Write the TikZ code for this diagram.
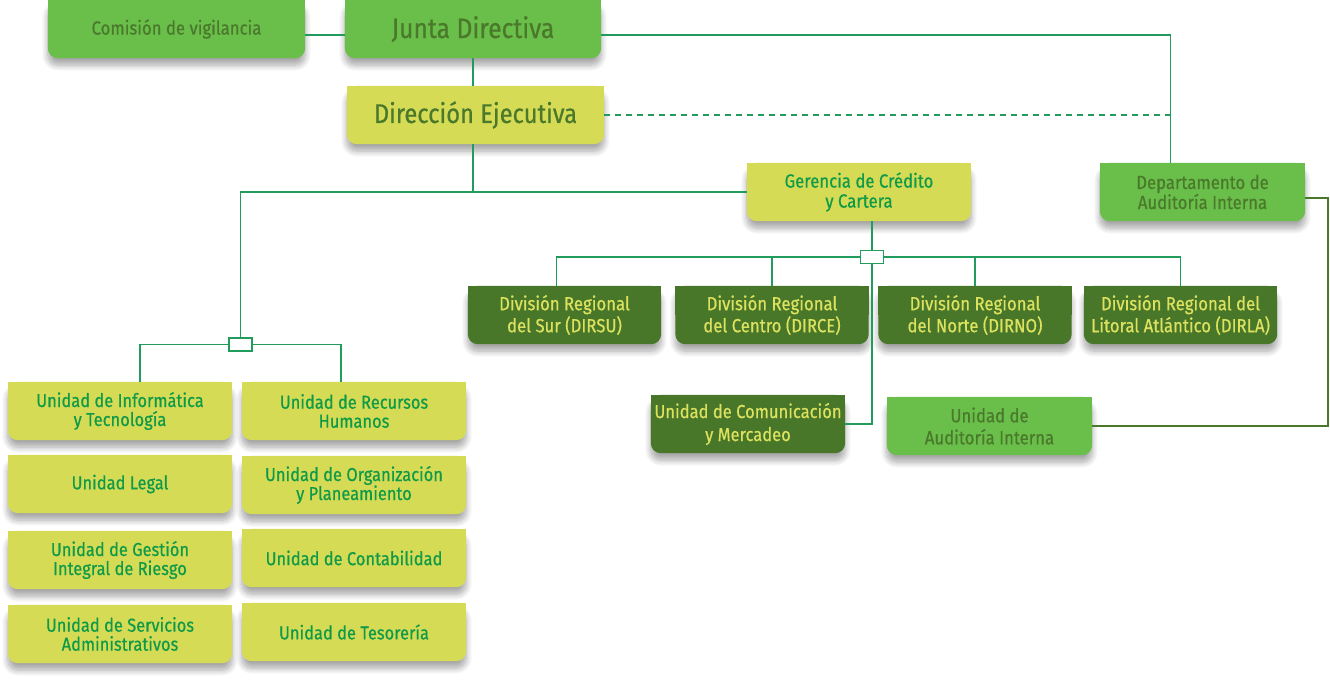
\documentclass[tikz,border=0pt]{standalone}
\usepackage{fontspec}
\setmainfont{Fira Sans}[FakeStretch=0.88, FakeBold=0.6]
\usetikzlibrary{positioning,backgrounds,shadows.blur}

\definecolor{verdeclaro}{HTML}{6ABF4B}
\definecolor{amarillo}{HTML}{D6DB55}
\definecolor{verdeoscuro}{HTML}{48772A}
\definecolor{textoclaro}{HTML}{4A792B}
\definecolor{textoverde}{HTML}{0F9A48}
\definecolor{textoamarillo}{HTML}{DCE25E}
\definecolor{linea}{HTML}{229C5C}

\tikzset{
  caja/.style={minimum height=58pt, inner sep=0pt, align=center,
    font=\fontsize{19}{19}\selectfont},
  claro/.style={caja, text=textoclaro},
  amar/.style={caja, text=textoverde},
  oscuro/.style={caja, text=textoamarillo},
  unidad/.style={amar, minimum width=224pt, font=\fontsize{18.7}{19}\selectfont},
  division/.style={oscuro, minimum width=193pt, font=\fontsize{19}{22}\selectfont},
  nudo/.style={draw=linea, fill=white, line width=1.5pt, minimum width=23pt,
    minimum height=13pt, inner sep=0pt},
  conector/.style={draw=linea, line width=1.6pt},
  sombra/.style={blur shadow={shadow xshift=0pt, shadow yshift=-7pt,
    shadow blur steps=10, shadow blur radius=6pt, shadow opacity=35}}
}

\begin{document}
\begin{tikzpicture}[x=1pt,y=-1pt]
  \useasboundingbox (0,0) rectangle (1330,682);

  % Cajas.
  \node[claro, minimum width=257pt, font=\fontsize{19}{19}\selectfont] (com) at (176.5,29) {Comisión de vigilancia};
  \node[claro, minimum width=256pt, font=\fontsize{28}{28}\selectfont] (jun) at (473,29) {Junta Directiva};
  \node[amar, text=textoclaro, minimum width=257pt, font=\fontsize{27}{27}\selectfont] (dir) at (475.5,115) {Dirección Ejecutiva};
  \node[amar, minimum width=224pt, font=\fontsize{19}{20}\selectfont] (ger) at (859,192) {Gerencia de Crédito\\y Cartera};
  \node[claro, minimum width=205pt, font=\fontsize{19}{20}\selectfont] (dep) at (1202.5,192) {Departamento de\\Auditoría Interna};

  \node[division] (d1) at (564.5,315) {División Regional\\del Sur (DIRSU)};
  \node[division] (d2) at (772,315) {División Regional\\del Centro (DIRCE)};
  \node[division] (d3) at (975,315) {División Regional\\del Norte (DIRNO)};
  \node[division] (d4) at (1180.5,315) {División Regional del\\Litoral Atlántico (DIRLA)};

  \node[oscuro, minimum width=194pt, font=\fontsize{18.8}{23}\selectfont] (ucm) at (748,424) {Unidad de Comunicación\\y Mercadeo};
  \node[claro, minimum width=205pt, font=\fontsize{19}{22}\selectfont] (uai) at (989.5,426) {Unidad de\\Auditoría Interna};

  \node[unidad] (u1) at (120,411) {Unidad de Informática\\y Tecnología};
  \node[unidad] (u2) at (354,411) {Unidad de Recursos\\Humanos};
  \node[unidad] (u3) at (120,484) {Unidad Legal};
  \node[unidad] (u4) at (354,485) {Unidad de Organización\\y Planeamiento};
  \node[unidad] (u5) at (120,560) {Unidad de Gestión\\Integral de Riesgo};
  \node[unidad] (u6) at (354,558) {Unidad de Contabilidad};
  \node[unidad] (u7) at (120,634) {Unidad de Servicios\\Administrativos};
  \node[unidad] (u8) at (354,632) {Unidad de Tesorería};

  % Fondos con esquinas redondeadas abajo.
  \begin{scope}[on background layer]
    \foreach \n/\col in {com/verdeclaro, jun/verdeclaro, dir/amarillo, ger/amarillo,
        dep/verdeclaro, d1/verdeoscuro, d2/verdeoscuro, d3/verdeoscuro, d4/verdeoscuro,
        ucm/verdeoscuro, uai/verdeclaro, u1/amarillo, u2/amarillo, u3/amarillo,
        u4/amarillo, u5/amarillo, u6/amarillo, u7/amarillo, u8/amarillo}{
      \fill[\col, rounded corners=10pt, sombra] (\n.north west) rectangle (\n.south east);
      \fill[\col] (\n.north west) rectangle (\n.east);
    }
  \end{scope}

  % Nudos.
  \node[nudo] (nizq) at (240.5,344.5) {};
  \node[nudo] (nder) at (872,257) {};
  \coordinate (aud) at ([xshift=-32pt]dep.north);

  % Conectores.
  \draw[conector] ([yshift=-6pt]com.east) -- ([yshift=-6pt]com.east -| jun.west);
  \draw[conector] ([yshift=-6pt]jun.east) -| (aud);
  \draw[conector, dash pattern=on 6pt off 5pt] (dir.east) -- (dir.east -| aud);
  \draw[conector] (jun.south) -- (jun |- dir.north);
  \draw[conector] (jun |- dir.south) -- (jun |- ger.west) -| (nizq.north);
  \draw[conector] (jun |- ger.west) -- (ger.west);
  \draw[conector] (nizq.west) -| ([xshift=20pt]u1.north);
  \draw[conector] (nizq.east) -| ([xshift=-13pt]u2.north);

  \draw[conector] (ger.south -| nder) -- (nder.north);
  \draw[conector] (nder.west) -| ([xshift=-8pt]d1.north);
  \draw[conector] (nder.west) -| (d2.north);
  \draw[conector] (nder.east) -| (d3.north);
  \draw[conector] (nder.east) -| (d4.north);
  \draw[conector] (nder.south) |- (ucm.east);

  \draw[conector, draw=textoclaro] ([yshift=-6pt]dep.east) -- ++(23,0) |- (uai.east);
\end{tikzpicture}
\end{document}
